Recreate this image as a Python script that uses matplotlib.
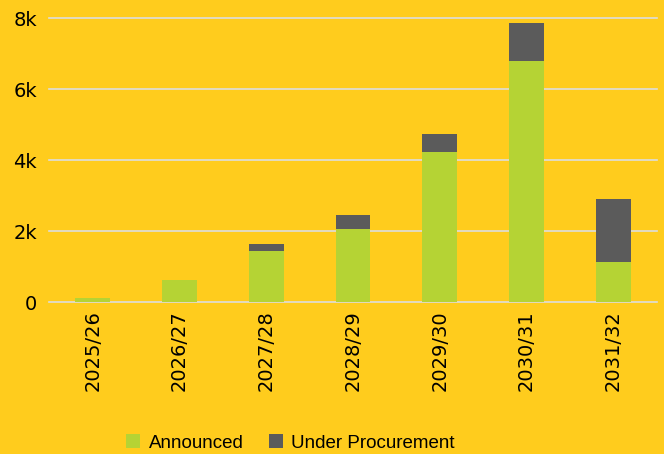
import matplotlib.pyplot as plt
import numpy as np

years = ["2025/26", "2026/27", "2027/28", "2028/29", "2029/30", "2030/31", "2031/32"]
announced = [110, 620, 1440, 2065, 4235, 6790, 1130]
under_procurement = [0, 0, 185, 375, 490, 1090, 1765]
yticks = [0, 2000, 4000, 6000, 8000]
ytick_labels = ["0", "2k", "4k", "6k", "8k"]

BG = "#FFCC1D"
GREEN = "#B5D334"
GREY = "#5B5B5B"

plt.rcParams["font.family"] = ["DejaVu Sans"]

fig = plt.figure(figsize=(6.64, 4.54), dpi=100, facecolor=BG)
ax = fig.add_axes([49.3 / 664, 1 - 302 / 454, (656.7 - 49.3) / 664, (302 - 18.3) / 454])
ax.set_facecolor(BG)

x = np.arange(len(years))
ax.bar(x, announced, width=0.4, color=GREEN, label="Announced", zorder=3)
ax.bar(x, under_procurement, width=0.4, bottom=announced, color=GREY,
       label="Under Procurement", zorder=3)

ax.set_xlim(-0.5, len(years) - 0.5)
ax.set_ylim(0, 8000)
ax.set_yticks(yticks)
ax.set_yticklabels(ytick_labels, fontsize=14, color="black")
ax.set_xticks(x)
ax.set_xticklabels(years, rotation=90, fontsize=14, color="black")
ax.tick_params(axis="both", length=0)
ax.tick_params(axis="y", pad=9)
ax.tick_params(axis="x", pad=6)

for y in yticks:
    ax.axhline(y, color="#DDDDDD", lw=1.2, zorder=1, clip_on=False)
for s in ax.spines.values():
    s.set_visible(False)

leg = fig.legend(loc="center left", bbox_to_anchor=(126 / 664, 0.024), ncol=2,
                 frameon=False, borderpad=0, borderaxespad=0,
                 handlelength=0.75, handleheight=0.75, handletextpad=0.45,
                 columnspacing=1.35,
                 prop={"family": ["Liberation Sans"], "size": 13.5})
for t in leg.get_texts():
    t.set_color("black")

fig.savefig("out.png", dpi=100, facecolor=BG)
